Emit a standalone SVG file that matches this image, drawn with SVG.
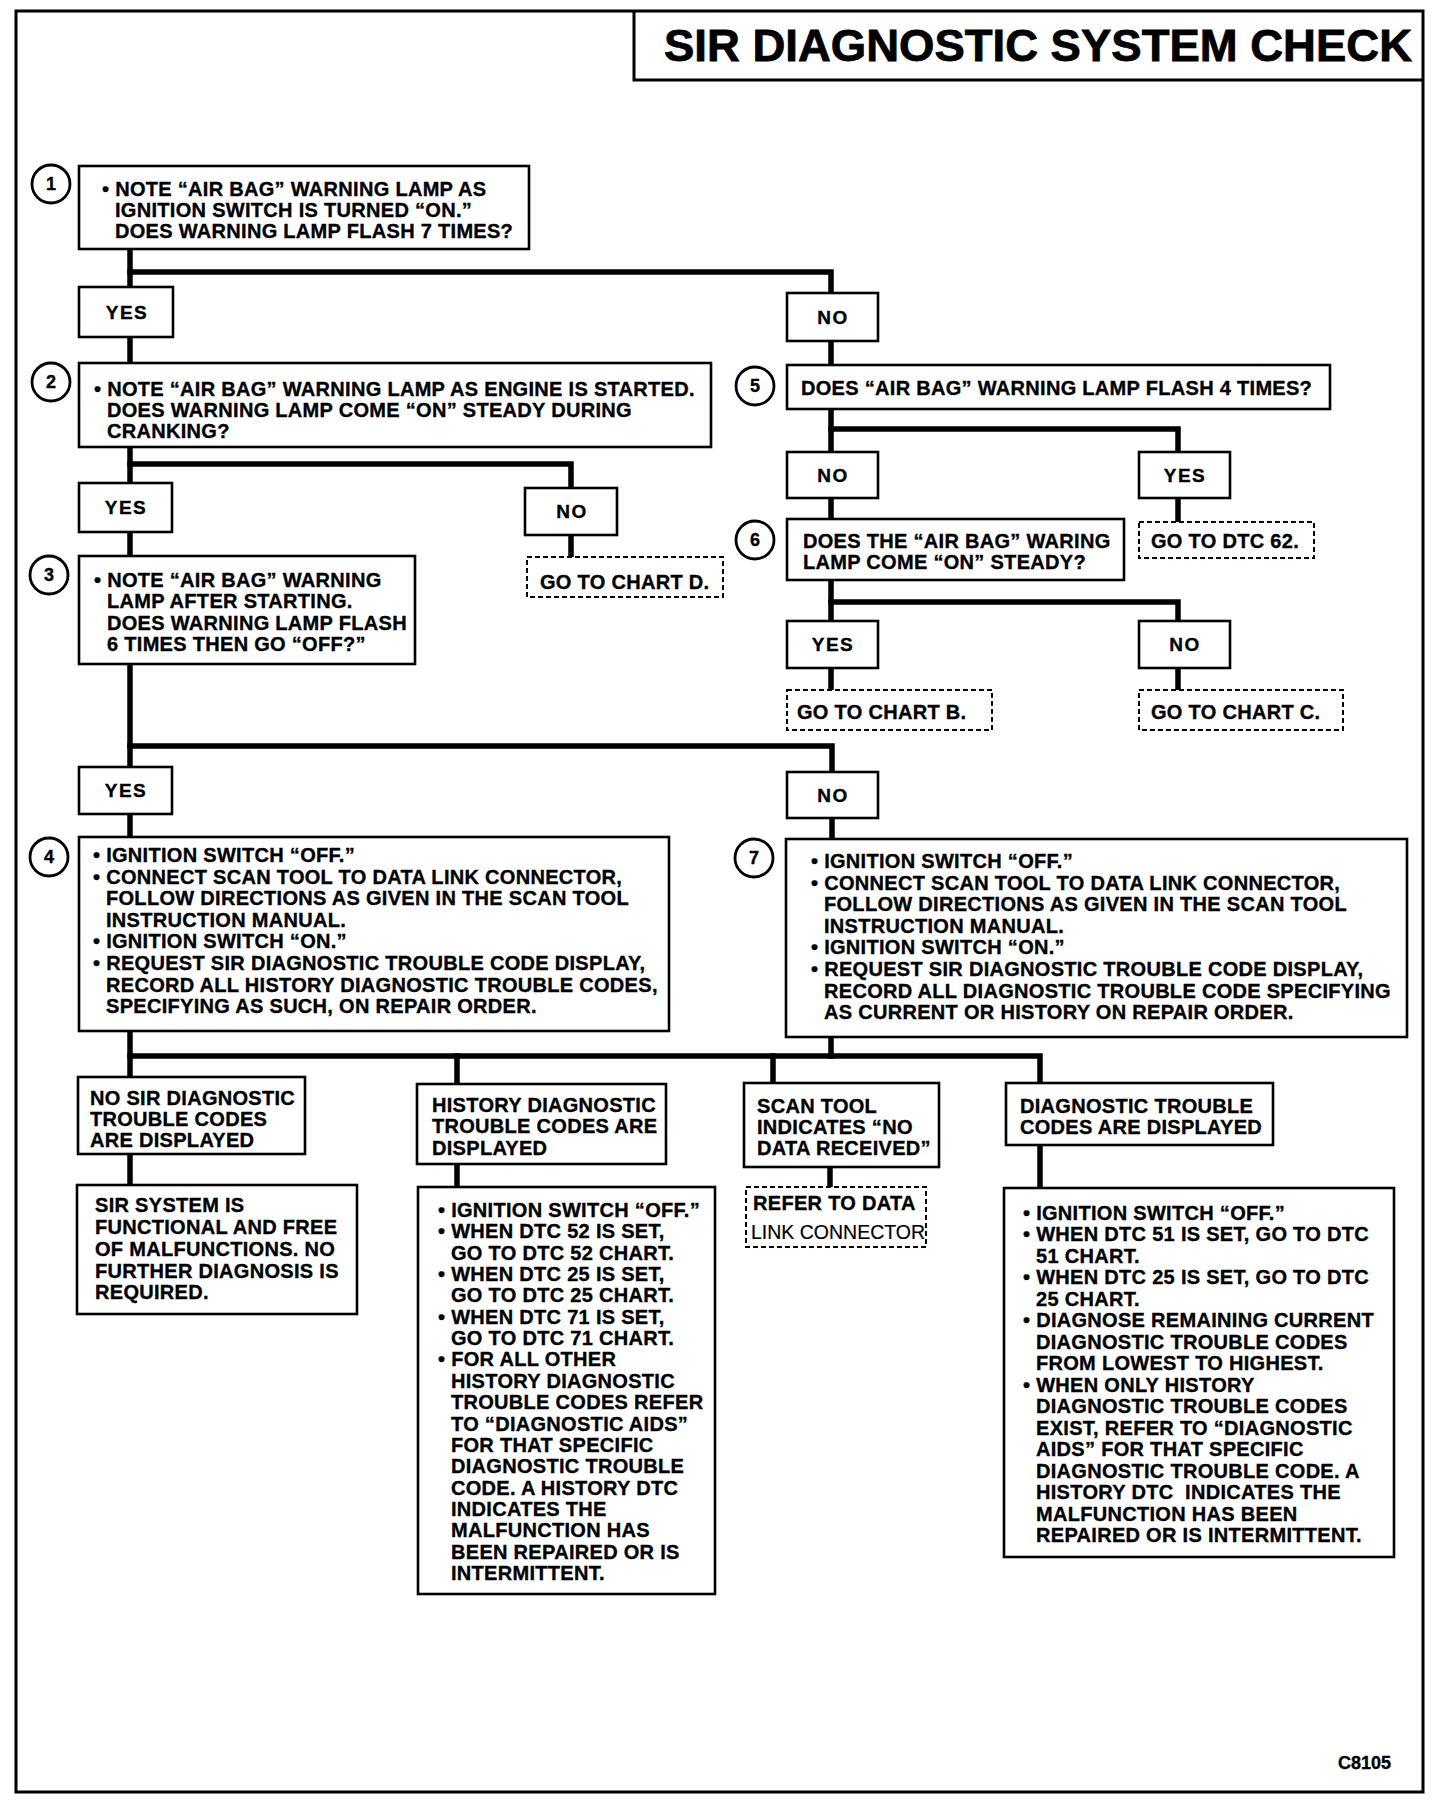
<svg xmlns="http://www.w3.org/2000/svg" width="1440" height="1800" viewBox="0 0 1440 1800">
<style>
.bg{fill:#fff}
.frame{fill:none;stroke:#000;stroke-width:3}
.box{fill:#fff;stroke:#000;stroke-width:2.6}
.dbox{fill:#fff;stroke:#000;stroke-width:2;stroke-dasharray:5 3}
.num{fill:#fff;stroke:#000;stroke-width:2.8}
.wire{fill:none;stroke:#000;stroke-width:5.5;stroke-linecap:square}
text{font-family:"Liberation Sans",Arial,Helvetica,sans-serif;font-weight:bold;fill:#000;font-size:20px;letter-spacing:0.3px;stroke:#000;stroke-width:0.35px}
.lbl{font-size:19px;letter-spacing:1.5px;text-anchor:middle}
.n{font-size:18px;text-anchor:middle;letter-spacing:0}
.title{font-size:45px;letter-spacing:0;stroke-width:0.8px}
.reg{font-weight:normal;font-size:19.5px;letter-spacing:0;stroke-width:0.2px}
.code{font-size:18px;text-anchor:end;letter-spacing:0}
</style>
<rect class="bg" x="0" y="0" width="1440" height="1800"/>
<rect class="frame" x="16" y="11" width="1407" height="1781"/>
<g id="title">
<path class="frame" d="M634,11 V80 H1423"/>
<text class="title" x="664" y="61" textLength="748" lengthAdjust="spacingAndGlyphs">SIR DIAGNOSTIC SYSTEM CHECK</text>
</g>
<g id="connectors">
<path class="wire" d="M130,250 V1185"/>
<path class="wire" d="M130,272 H831 V690"/>
<path class="wire" d="M130,464 H571 V557"/>
<path class="wire" d="M831,429 H1178 V522"/>
<path class="wire" d="M831,602 H1178 V690"/>
<path class="wire" d="M130,746 H832 V839"/>
<path class="wire" d="M130,1056 H1040 V1188"/>
<path class="wire" d="M457,1056 V1187"/>
<path class="wire" d="M773,1056 V1083"/>
<path class="wire" d="M831,1037 V1056"/>
<path class="wire" d="M830,1167 V1187"/>
</g>
<g id="n1">
<circle class="num" cx="51" cy="184" r="19"/><text class="n" x="51" y="190">1</text>
<rect class="box" x="79" y="166" width="450" height="83"/>
<text><tspan x="102" y="196">• NOTE “AIR BAG” WARNING LAMP AS</tspan><tspan x="115" y="217">IGNITION SWITCH IS TURNED “ON.”</tspan><tspan x="115" y="238">DOES WARNING LAMP FLASH 7 TIMES?</tspan></text>
</g>
<g id="yes1"><rect class="box" x="79" y="287" width="94" height="50"/><text class="lbl" x="127" y="319">YES</text></g>
<g id="no1"><rect class="box" x="787" y="293" width="91" height="48"/><text class="lbl" x="833" y="324">NO</text></g>
<g id="n2">
<circle class="num" cx="51" cy="382" r="19"/><text class="n" x="51" y="388">2</text>
<rect class="box" x="79" y="363" width="632" height="84"/>
<text><tspan x="94" y="396">• NOTE “AIR BAG” WARNING LAMP AS ENGINE IS STARTED.</tspan><tspan x="107" y="417">DOES WARNING LAMP COME “ON” STEADY DURING</tspan><tspan x="107" y="438">CRANKING?</tspan></text>
</g>
<g id="yes2"><rect class="box" x="79" y="483" width="93" height="49"/><text class="lbl" x="126" y="514">YES</text></g>
<g id="no2"><rect class="box" x="525" y="488" width="92" height="47"/><text class="lbl" x="572" y="518">NO</text></g>
<g id="chartD"><rect class="dbox" x="527" y="557" width="196" height="40"/><text x="540" y="589">GO TO CHART D.</text></g>
<g id="n3">
<circle class="num" cx="49" cy="575" r="19"/><text class="n" x="49" y="581">3</text>
<rect class="box" x="79" y="556" width="336" height="108"/>
<text><tspan x="94" y="587">• NOTE “AIR BAG” WARNING</tspan><tspan x="107" y="608">LAMP AFTER STARTING.</tspan><tspan x="107" y="630">DOES WARNING LAMP FLASH</tspan><tspan x="107" y="651">6 TIMES THEN GO “OFF?”</tspan></text>
</g>
<g id="yes3"><rect class="box" x="79" y="767" width="93" height="47"/><text class="lbl" x="126" y="797">YES</text></g>
<g id="no3"><rect class="box" x="787" y="772" width="91" height="46"/><text class="lbl" x="833" y="802">NO</text></g>
<g id="n4">
<circle class="num" cx="49" cy="857" r="19"/><text class="n" x="49" y="863">4</text>
<rect class="box" x="79" y="837" width="590" height="194"/>
<text><tspan x="93" y="862">• IGNITION SWITCH “OFF.”</tspan><tspan x="93" y="884">• CONNECT SCAN TOOL TO DATA LINK CONNECTOR,</tspan><tspan x="106" y="905">FOLLOW DIRECTIONS AS GIVEN IN THE SCAN TOOL</tspan><tspan x="106" y="927">INSTRUCTION MANUAL.</tspan><tspan x="93" y="948">• IGNITION SWITCH “ON.”</tspan><tspan x="93" y="970">• REQUEST SIR DIAGNOSTIC TROUBLE CODE DISPLAY,</tspan><tspan x="106" y="992">RECORD ALL HISTORY DIAGNOSTIC TROUBLE CODES,</tspan><tspan x="106" y="1013">SPECIFYING AS SUCH, ON REPAIR ORDER.</tspan></text>
</g>
<g id="n5">
<circle class="num" cx="755" cy="386" r="19"/><text class="n" x="755" y="392">5</text>
<rect class="box" x="787" y="365" width="543" height="44"/>
<text x="801" y="395">DOES “AIR BAG” WARNING LAMP FLASH 4 TIMES?</text>
</g>
<g id="no5"><rect class="box" x="787" y="452" width="91" height="46"/><text class="lbl" x="833" y="482">NO</text></g>
<g id="yes5"><rect class="box" x="1139" y="452" width="91" height="46"/><text class="lbl" x="1185" y="482">YES</text></g>
<g id="dtc62"><rect class="dbox" x="1139" y="522" width="175" height="36"/><text x="1151" y="548">GO TO DTC 62.</text></g>
<g id="n6">
<circle class="num" cx="755" cy="540" r="19"/><text class="n" x="755" y="546">6</text>
<rect class="box" x="787" y="519" width="337" height="61"/>
<text><tspan x="803" y="548">DOES THE “AIR BAG” WARING</tspan><tspan x="803" y="569">LAMP COME “ON” STEADY?</tspan></text>
</g>
<g id="yes6"><rect class="box" x="787" y="621" width="91" height="47"/><text class="lbl" x="833" y="651">YES</text></g>
<g id="no6"><rect class="box" x="1139" y="621" width="91" height="47"/><text class="lbl" x="1185" y="651">NO</text></g>
<g id="chartB"><rect class="dbox" x="787" y="690" width="205" height="40"/><text x="797" y="719">GO TO CHART B.</text></g>
<g id="chartC"><rect class="dbox" x="1139" y="690" width="204" height="40"/><text x="1151" y="719">GO TO CHART C.</text></g>
<g id="n7">
<circle class="num" cx="754" cy="858" r="19"/><text class="n" x="754" y="864">7</text>
<rect class="box" x="786" y="839" width="621" height="198"/>
<text><tspan x="811" y="868">• IGNITION SWITCH “OFF.”</tspan><tspan x="811" y="890">• CONNECT SCAN TOOL TO DATA LINK CONNECTOR,</tspan><tspan x="824" y="911">FOLLOW DIRECTIONS AS GIVEN IN THE SCAN TOOL</tspan><tspan x="824" y="933">INSTRUCTION MANUAL.</tspan><tspan x="811" y="954">• IGNITION SWITCH “ON.”</tspan><tspan x="811" y="976">• REQUEST SIR DIAGNOSTIC TROUBLE CODE DISPLAY,</tspan><tspan x="824" y="998">RECORD ALL DIAGNOSTIC TROUBLE CODE SPECIFYING</tspan><tspan x="824" y="1019">AS CURRENT OR HISTORY ON REPAIR ORDER.</tspan></text>
</g>
<g id="noSir">
<rect class="box" x="78" y="1077" width="227" height="77"/>
<text><tspan x="90" y="1105">NO SIR DIAGNOSTIC</tspan><tspan x="90" y="1126">TROUBLE CODES</tspan><tspan x="90" y="1147">ARE DISPLAYED</tspan></text>
</g>
<g id="sirOk">
<rect class="box" x="77" y="1185" width="280" height="129"/>
<text><tspan x="95" y="1212">SIR SYSTEM IS</tspan><tspan x="95" y="1234">FUNCTIONAL AND FREE</tspan><tspan x="95" y="1256">OF MALFUNCTIONS. NO</tspan><tspan x="95" y="1278">FURTHER DIAGNOSIS IS</tspan><tspan x="95" y="1299">REQUIRED.</tspan></text>
</g>
<g id="hist">
<rect class="box" x="417" y="1084" width="249" height="80"/>
<text><tspan x="432" y="1112">HISTORY DIAGNOSTIC</tspan><tspan x="432" y="1133">TROUBLE CODES ARE</tspan><tspan x="432" y="1155">DISPLAYED</tspan></text>
</g>
<g id="histSteps">
<rect class="box" x="418" y="1187" width="297" height="407"/>
<text><tspan x="438" y="1217">• IGNITION SWITCH “OFF.”</tspan><tspan x="438" y="1238">• WHEN DTC 52 IS SET,</tspan><tspan x="451" y="1260">GO TO DTC 52 CHART.</tspan><tspan x="438" y="1281">• WHEN DTC 25 IS SET,</tspan><tspan x="451" y="1302">GO TO DTC 25 CHART.</tspan><tspan x="438" y="1324">• WHEN DTC 71 IS SET,</tspan><tspan x="451" y="1345">GO TO DTC 71 CHART.</tspan><tspan x="438" y="1366">• FOR ALL OTHER</tspan><tspan x="451" y="1388">HISTORY DIAGNOSTIC</tspan><tspan x="451" y="1409">TROUBLE CODES REFER</tspan><tspan x="451" y="1431">TO “DIAGNOSTIC AIDS”</tspan><tspan x="451" y="1452">FOR THAT SPECIFIC</tspan><tspan x="451" y="1473">DIAGNOSTIC TROUBLE</tspan><tspan x="451" y="1495">CODE. A HISTORY DTC</tspan><tspan x="451" y="1516">INDICATES THE</tspan><tspan x="451" y="1537">MALFUNCTION HAS</tspan><tspan x="451" y="1559">BEEN REPAIRED OR IS</tspan><tspan x="451" y="1580">INTERMITTENT.</tspan></text>
</g>
<g id="scan">
<rect class="box" x="744" y="1083" width="195" height="84"/>
<text><tspan x="757" y="1113">SCAN TOOL</tspan><tspan x="757" y="1134">INDICATES “NO</tspan><tspan x="757" y="1155">DATA RECEIVED”</tspan></text>
</g>
<g id="refer">
<rect class="dbox" x="746" y="1187" width="180" height="60"/>
<text x="753" y="1210">REFER TO DATA</text>
<text class="reg" x="751" y="1239">LINK CONNECTOR</text>
</g>
<g id="diag">
<rect class="box" x="1006" y="1083" width="267" height="62"/>
<text><tspan x="1020" y="1113">DIAGNOSTIC TROUBLE</tspan><tspan x="1020" y="1134">CODES ARE DISPLAYED</tspan></text>
</g>
<g id="diagSteps">
<rect class="box" x="1004" y="1188" width="390" height="369"/>
<text><tspan x="1023" y="1220">• IGNITION SWITCH “OFF.”</tspan><tspan x="1023" y="1241">• WHEN DTC 51 IS SET, GO TO DTC</tspan><tspan x="1036" y="1263">51 CHART.</tspan><tspan x="1023" y="1284">• WHEN DTC 25 IS SET, GO TO DTC</tspan><tspan x="1036" y="1306">25 CHART.</tspan><tspan x="1023" y="1327">• DIAGNOSE REMAINING CURRENT</tspan><tspan x="1036" y="1349">DIAGNOSTIC TROUBLE CODES</tspan><tspan x="1036" y="1370">FROM LOWEST TO HIGHEST.</tspan><tspan x="1023" y="1392">• WHEN ONLY HISTORY</tspan><tspan x="1036" y="1413">DIAGNOSTIC TROUBLE CODES</tspan><tspan x="1036" y="1435">EXIST, REFER TO “DIAGNOSTIC</tspan><tspan x="1036" y="1456">AIDS” FOR THAT SPECIFIC</tspan><tspan x="1036" y="1478">DIAGNOSTIC TROUBLE CODE. A</tspan><tspan x="1036" y="1499">HISTORY DTC&#160; INDICATES THE</tspan><tspan x="1036" y="1521">MALFUNCTION HAS BEEN</tspan><tspan x="1036" y="1542">REPAIRED OR IS INTERMITTENT.</tspan></text>
</g>
<text class="code" x="1391" y="1769">C8105</text>
</svg>
